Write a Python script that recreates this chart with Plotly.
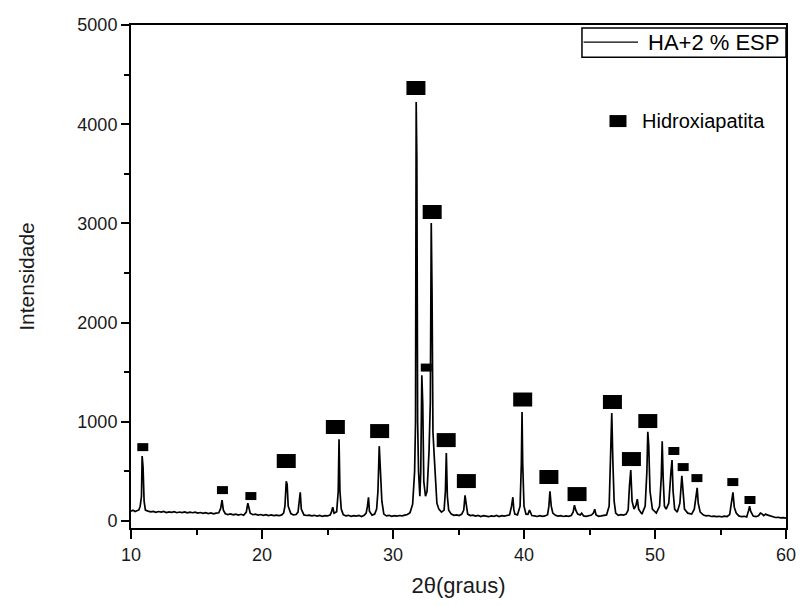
import plotly.graph_objects as go

# ---- data ----
two_theta = [
    10.0, 10.15, 10.3, 10.45, 10.6, 10.7, 10.8, 10.85, 10.92, 11.0, 11.1, 11.3, 11.5, 11.7, 11.9,
    12.1, 12.3, 12.5, 12.7, 12.9, 13.1, 13.3, 13.5, 13.7, 13.9, 14.1, 14.3, 14.5, 14.7, 14.9,
    15.1, 15.3, 15.5, 15.7, 15.9, 16.1, 16.3, 16.5, 16.7, 16.85, 16.95, 17.05, 17.2, 17.4, 17.6,
    17.8, 18.0, 18.2, 18.4, 18.6, 18.8, 18.92, 19.0, 19.1, 19.3, 19.5, 19.7, 19.9, 20.1, 20.3,
    20.5, 20.7, 20.9, 21.1, 21.3, 21.5, 21.65, 21.75, 21.85, 21.92, 22.0, 22.2, 22.4, 22.6, 22.75,
    22.85, 22.92, 23.0, 23.2, 23.4, 23.6, 23.8, 24.0, 24.2, 24.4, 24.6, 24.8, 25.0, 25.2, 25.3,
    25.4, 25.5, 25.7, 25.82, 25.88, 25.95, 26.05, 26.2, 26.4, 26.6, 26.8, 27.0, 27.2, 27.4, 27.6,
    27.8, 27.95, 28.05, 28.13, 28.2, 28.4, 28.6, 28.75, 28.85, 28.95, 29.02, 29.15, 29.3, 29.5, 29.7,
    29.9, 30.1, 30.3, 30.5, 30.7, 30.9, 31.1, 31.3, 31.5, 31.65, 31.72, 31.77, 31.82, 31.88, 31.95,
    32.05, 32.12, 32.2, 32.27, 32.35, 32.48, 32.6, 32.75, 32.85, 32.92, 32.98, 33.05, 33.15, 33.25, 33.35,
    33.5, 33.7, 33.9, 34.0, 34.07, 34.15, 34.25, 34.45, 34.65, 34.85, 35.05, 35.25, 35.4, 35.5, 35.58,
    35.7, 35.9, 36.1, 36.3, 36.5, 36.7, 36.9, 37.1, 37.3, 37.5, 37.7, 37.9, 38.1, 38.3, 38.5,
    38.7, 38.9, 39.05, 39.15, 39.22, 39.3, 39.5, 39.7, 39.8, 39.85, 39.9, 40.0, 40.15, 40.3, 40.42,
    40.5, 40.6, 40.8, 41.0, 41.2, 41.4, 41.6, 41.8, 41.9, 41.98, 42.08, 42.2, 42.4, 42.6, 42.8,
    43.0, 43.2, 43.4, 43.6, 43.75, 43.85, 43.95, 44.1, 44.3, 44.4, 44.55, 44.75, 44.95, 45.15, 45.3,
    45.4, 45.5, 45.7, 45.9, 46.1, 46.3, 46.5, 46.62, 46.7, 46.78, 46.88, 47.0, 47.2, 47.4, 47.6,
    47.8, 47.95, 48.05, 48.15, 48.25, 48.4, 48.55, 48.65, 48.75, 49.0, 49.25, 49.38, 49.45, 49.52, 49.62,
    49.8, 50.1, 50.35, 50.48, 50.55, 50.62, 50.72, 50.85, 51.05, 51.22, 51.3, 51.38, 51.5, 51.7, 51.9,
    52.05, 52.12, 52.25, 52.5, 52.8, 53.0, 53.12, 53.22, 53.3, 53.45, 53.7, 53.9, 54.1, 54.3, 54.5,
    54.7, 54.9, 55.1, 55.3, 55.5, 55.7, 55.85, 55.95, 56.05, 56.2, 56.4, 56.6, 56.8, 57.0, 57.15,
    57.22, 57.3, 57.5, 57.7, 57.9, 58.05, 58.15, 58.3, 58.45, 58.55, 58.7, 58.85, 59.0, 59.2, 59.4,
    59.6, 59.8, 60.0,
]
intensity = [
    100, 110, 96, 108, 112, 150, 250, 655, 545, 200, 110, 100, 92, 98, 88,
    96, 90, 97, 86, 93, 88, 95, 84, 91, 86, 92, 82, 89, 84, 90,
    80, 86, 78, 84, 76, 82, 72, 80, 84, 130, 210, 110, 74, 66, 72,
    62, 70, 60, 68, 58, 90, 180, 130, 80, 64, 70, 60, 66, 58, 64,
    56, 62, 55, 60, 54, 62, 80, 150, 400, 370, 150, 75, 62, 66, 90,
    200, 290, 120, 62, 56, 60, 52, 58, 50, 56, 48, 55, 52, 60, 90,
    140, 80, 95, 300, 825, 300, 120, 65, 52, 58, 48, 54, 50, 56, 46,
    58, 80, 150, 240, 100, 60, 70, 120, 300, 755, 565, 200, 70, 52, 58,
    48, 55, 50, 56, 52, 60, 66, 85, 170, 500, 1000, 4225, 3660, 1000, 500,
    250, 500, 1470, 1190, 400, 250, 300, 700, 1200, 3005, 2300, 900, 645, 400, 180,
    120, 90, 110, 300, 685, 250, 110, 70, 58, 62, 55, 70, 110, 260, 180,
    70, 55, 60, 50, 56, 46, 54, 50, 44, 52, 48, 56, 46, 54, 50,
    56, 62, 150, 240, 120, 70, 62, 150, 585, 1100, 585, 150, 70, 68, 110,
    80, 56, 52, 46, 54, 48, 52, 64, 150, 300, 150, 80, 58, 50, 54,
    46, 52, 48, 56, 90, 160, 110, 70, 62, 80, 52, 48, 54, 60, 80,
    120, 62, 48, 52, 56, 62, 150, 615, 1090, 615, 200, 80, 58, 64, 60,
    70, 110, 350, 515, 200, 120, 160, 220, 120, 70, 150, 500, 900, 765, 300,
    120, 80, 150, 445, 805, 445, 150, 120, 180, 500, 615, 300, 120, 90, 180,
    455, 340, 120, 80, 70, 120, 260, 335, 180, 90, 60, 52, 56, 46, 50,
    44, 48, 42, 50, 46, 65, 200, 290, 140, 80, 52, 44, 48, 42, 110,
    150, 100, 50, 44, 54, 80, 75, 55, 70, 62, 55, 45, 40, 36, 38,
    32, 34, 30,
]

# Hydroxyapatite reflection markers (major / minor labels)
hap_major_x = [21.85, 25.6, 28.98, 31.75, 32.99, 34.06, 35.6, 39.9, 41.9, 44.05, 46.75, 48.2, 49.45]
hap_major_y = [605, 948, 907, 4365, 3115, 816, 403, 1225, 444, 272, 1200, 625, 1008]
hap_minor_x = [10.9, 16.98, 19.15, 32.54, 51.44, 52.15, 53.2, 55.94, 57.25]
hap_minor_y = [745, 312, 252, 1547, 706, 544, 433, 393, 212]

series_name = "HA+2 % ESP"
phase_name = "Hidroxiapatita"
x_title = "2θ(graus)"
y_title = "Intensidade"

FONT = "Arial, Liberation Sans, sans-serif"

fig = go.Figure()
fig.add_trace(go.Scatter(
    x=two_theta, y=intensity, mode="lines", name=series_name,
    line=dict(color="black", width=1.7), showlegend=False,
))

shapes = []
for xs, ys, hw, hh in ((hap_major_x, hap_major_y, 9.5, 7), (hap_minor_x, hap_minor_y, 5.5, 4)):
    for xv, yv in zip(xs, ys):
        shapes.append(dict(
            type="rect", xref="x", yref="y",
            xsizemode="pixel", ysizemode="pixel",
            xanchor=xv, yanchor=yv,
            x0=-hw, x1=hw, y0=-hh, y1=hh,
            fillcolor="black", line=dict(width=0),
        ))
# legend box with line sample (series key)
shapes.append(dict(type="rect", xref="paper", yref="paper",
                   x0=0.6885, x1=1.0, y0=0.936, y1=0.994,
                   fillcolor="white", line=dict(color="black", width=1.5)))
shapes.append(dict(type="line", xref="paper", yref="paper",
                   x0=0.691, x1=0.774, y0=0.966, y1=0.966,
                   line=dict(color="black", width=1.3)))
# phase key marker
shapes.append(dict(
    type="rect", xref="paper", yref="paper",
    xsizemode="pixel", ysizemode="pixel",
    xanchor=0.7435, yanchor=0.809,
    x0=-8.5, x1=8.5, y0=-6, y1=6,
    fillcolor="black", line=dict(width=0),
))

fig.update_layout(
    width=790, height=590,
    margin=dict(l=123, r=12, t=17, b=70, autoexpand=False),
    paper_bgcolor="white", plot_bgcolor="white",
    font=dict(family=FONT, color="#1a1a1a"),
    showlegend=False,
    shapes=shapes,
    annotations=[
        dict(text=series_name, xref="paper", yref="paper",
             x=0.9924, y=0.966, xanchor="right", yanchor="middle",
             showarrow=False, font=dict(size=22, family=FONT, color="black")),
        dict(text=phase_name, xref="paper", yref="paper",
             x=0.777, y=0.809, xanchor="left", yanchor="middle",
             showarrow=False, font=dict(size=20, family=FONT, color="black")),
    ],
    xaxis=dict(
        range=[10, 60], dtick=10, tick0=10, automargin=False,
        ticklabeloverflow="allow",
        showline=True, linecolor="black", linewidth=2, mirror=True,
        ticks="outside", ticklen=9, tickwidth=2, tickcolor="black",
        minor=dict(dtick=5, ticks="outside", ticklen=5, tickwidth=2, tickcolor="black"),
        showgrid=False, zeroline=False,
        tickfont=dict(size=18),
        title=dict(text=x_title, font=dict(size=22), standoff=15),
    ),
    yaxis=dict(
        range=[-70, 5000], dtick=1000, tick0=0, automargin=False,
        showline=True, linecolor="black", linewidth=2, mirror=True,
        ticks="outside", ticklen=8, tickwidth=2, tickcolor="black",
        minor=dict(dtick=500, ticks="outside", ticklen=5, tickwidth=2, tickcolor="black"),
        showgrid=False, zeroline=False,
        tickfont=dict(size=18),
        title=dict(text=y_title, font=dict(size=21), standoff=37),
    ),
)

fig.write_html("out.html")
